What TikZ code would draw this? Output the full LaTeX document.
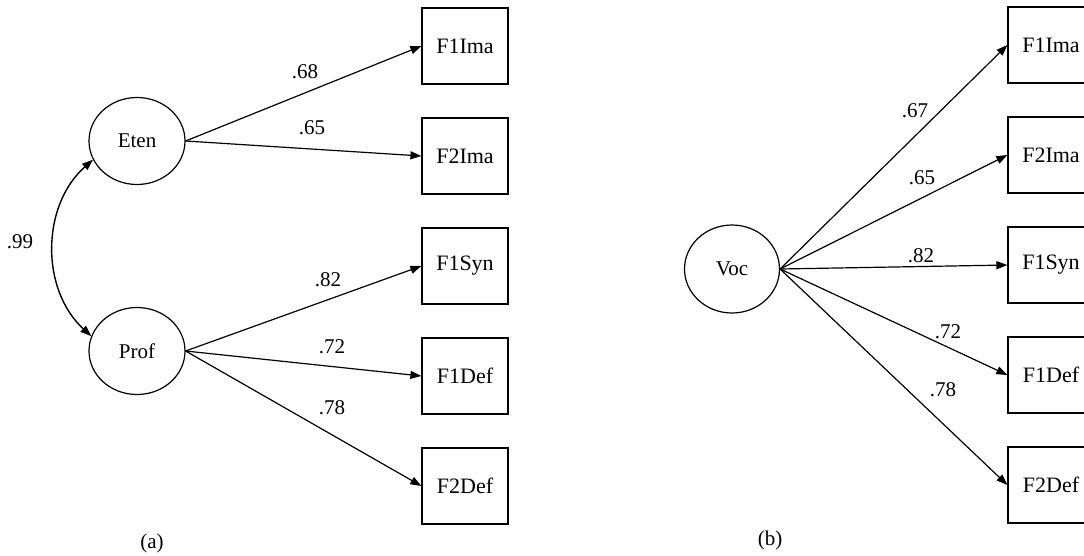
\documentclass[tikz,border=0pt]{standalone}
\usepackage{fontspec}
\setmainfont{Liberation Serif}
\usetikzlibrary{arrows.meta,shapes.geometric}

\tikzset{
  latent/.style={draw, ellipse, line width=1.2pt, minimum width=96pt, minimum height=87pt, inner sep=0pt},
  observed/.style={draw, rectangle, line width=1.2pt, minimum width=86pt, minimum height=76pt, inner sep=0pt,
    font=\fontsize{22}{26}\selectfont},
  path/.style={line width=1.2pt, -{Triangle[length=11pt,width=8pt]}},
  cov/.style={line width=1.4pt, {Triangle[length=11pt,width=8pt]}-{Triangle[length=11pt,width=8pt]}},
  coef/.style={inner sep=0pt},
}

\begin{document}
\begin{tikzpicture}[x=1pt, y=-1pt, font=\fontsize{21}{25}\selectfont]
\useasboundingbox (0,0) rectangle (1084,555);
\clip (0,0) rectangle (1084,555);

% ---- (a) two correlated factors ----
\node[latent] (eten) at (137,141) {Eten};
\node[latent] (prof) at (137,351) {Prof};

\node[observed] (a1) at (465,46)  {F1Ima};
\node[observed] (a2) at (465,156) {F2Ima};
\node[observed] (a3) at (465,266) {F1Syn};
\node[observed] (a4) at (465,376) {F1Def};
\node[observed] (a5) at (465,486) {F2Def};

\draw[path] (eten.east) -- (a1.west);
\draw[path] (eten.east) -- (a2.west);
\draw[path] (prof.east) -- (a3.west);
\draw[path] (prof.east) -- (a4.west);
\draw[path] (prof.east) -- (a5.west);

\draw[cov] (eten.203) to[bend right=48] (prof.162);

\node[coef] (l99) at (20,242) {.99};
\node[coef] (la1) at (305,72)  {.68};
\node[coef] (la2) at (312,128) {.65};
\node[coef] (la3) at (328,280) {.82};
\node[coef] (la4) at (332,347) {.72};
\node[coef] (la5) at (332,408) {.78};

\node (capa) at (152,543) {(a)};

% ---- (b) single factor ----
\node[latent, minimum width=95pt, minimum height=88pt] (voc) at (732,269) {Voc};

\node[observed] (b1) at (1051,45)  {F1Ima};
\node[observed] (b2) at (1051,155) {F2Ima};
\node[observed] (b3) at (1051,265) {F1Syn};
\node[observed] (b4) at (1051,375) {F1Def};
\node[observed] (b5) at (1051,485) {F2Def};

\draw[path] (voc.east) -- (b1.west);
\draw[path] (voc.east) -- (b2.west);
\draw[path] (voc.east) -- (b3.west);
\draw[path] (voc.east) -- (b4.west);
\draw[path] (voc.east) -- (b5.west);

\node[coef] (lb1) at (915,111) {.67};
\node[coef] (lb2) at (922,178) {.65};
\node[coef] (lb3) at (921,256) {.82};
\node[coef] (lb4) at (948,332) {.72};
\node[coef] (lb5) at (943,390) {.78};

\node (capb) at (770,540) {(b)};
\end{tikzpicture}
\end{document}
